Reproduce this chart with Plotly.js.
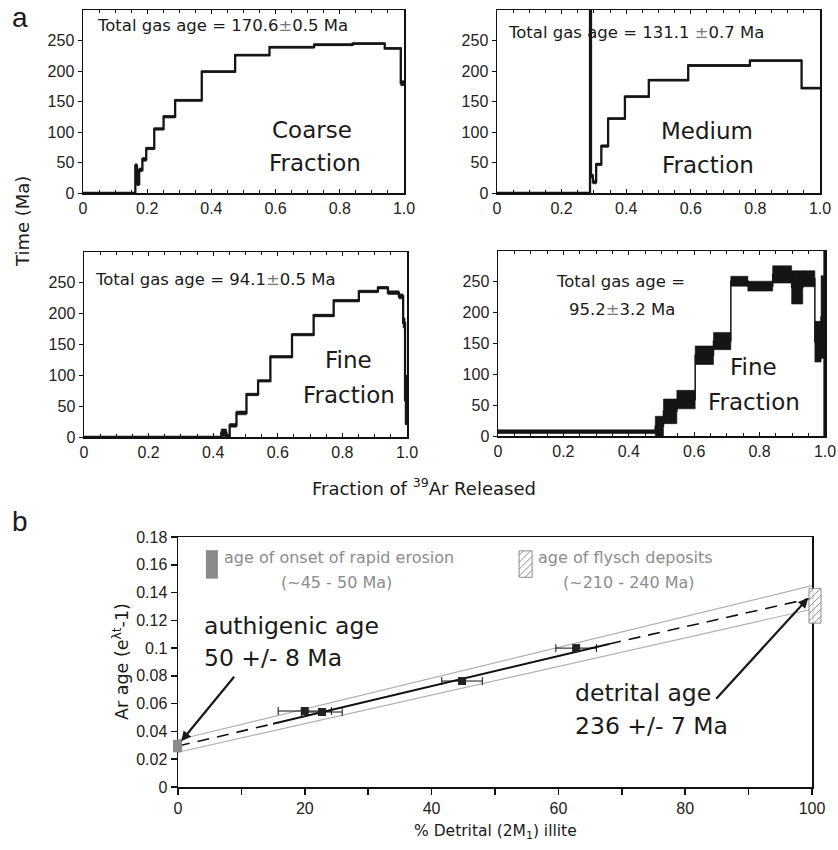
<!DOCTYPE html>
<html><head><meta charset="utf-8">
<script src="https://cdn.plot.ly/plotly-3.0.1.min.js"></script>
<style>body{margin:0;background:#fff}#chart{width:838px;height:850px}</style>
</head><body><div id="chart"></div>
<script>
// ---------- Panel a: 40Ar/39Ar age spectra ----------
// cumulative fraction of 39Ar released (step edges), step ages (Ma), 1-sigma errors (Ma)
const coarseEdges = [0, 0.163, 0.168, 0.175, 0.185, 0.197, 0.222, 0.251, 0.287, 0.37, 0.474, 0.581, 0.72, 0.84, 0.94, 0.99, 1.0];
const coarseAges  = [0, 45, 15, 38, 55, 73, 105, 125, 152, 199, 226, 239, 243, 245, 237, 180];
const coarseErr   = [0.5, 3, 3, 3, 3, 2, 2, 2, 1.5, 1.5, 1.5, 1.5, 1.5, 1.5, 1.5, 4];

const mediumEdges = [0, 0.288, 0.291, 0.297, 0.307, 0.323, 0.344, 0.396, 0.47, 0.592, 0.783, 0.943, 1.0];
const mediumAges  = [0, 400, 28, 18, 47, 77, 122, 158, 185, 209, 217, 172];
const mediumErr   = [0.5, 0, 3, 3, 2, 2, 1.5, 1.5, 1.5, 1.5, 1.5, 1.5];

const fineEdges = [0, 0.425, 0.441, 0.451, 0.472, 0.503, 0.539, 0.577, 0.644, 0.711, 0.773, 0.851, 0.910, 0.941, 0.975, 0.988, 0.994, 1.0];
const fineAges  = [0, 7, 2, 19, 39, 69, 91, 130, 166, 197, 221, 236, 242, 234, 228, 185, 60];
const fineErr   = [0.5, 6, 2, 3, 3, 2, 2, 2, 2, 2, 2, 2, 2, 3, 4, 8, 40];

const fine2Edges = [0, 0.481, 0.506, 0.547, 0.603, 0.659, 0.712, 0.764, 0.840, 0.898, 0.932, 0.969, 0.988, 0.996, 1.0];
const fine2Ages  = [7, 16, 40, 59, 131, 154, 251, 243, 262, 241, 255, 153, 193, 150];
const fine2Err   = [3, 16, 20, 15, 15, 14, 8, 8, 14, 27, 13, 33, 67, 150];

const fracTicks = [0, 0.2, 0.4, 0.6, 0.8, 1.0];
const fracTickText = ['0', '0.2', '0.4', '0.6', '0.8', '1.0'];
const timeTicks = [0, 50, 100, 150, 200, 250];

// ---------- Panel b: illite age analysis ----------
const detritalPct = [20, 22.7, 44.8, 62.8];
const arAge = [0.0547, 0.0540, 0.0763, 0.100];
const detritalErr = [4.2, 3.2, 3.2, 3.2];
const fitSolidX = [15, 68];
const fitSolidY = [0.0455, 0.103];
const fitDashLowX = [0, 15];
const fitDashLowY = [0.0295, 0.0455];
const fitDashHighX = [68, 100];
const fitDashHighY = [0.103, 0.136];
const bandX = [0, 100];
const bandUpper = [0.034, 0.145];
const bandLower = [0.025, 0.128];
const erosionRange = [0.025, 0.034];   // e^lt-1 for ~45-50 Ma
const flyschRange = [0.118, 0.143];    // e^lt-1 for ~210-240 Ma
const pctTicks = [0, 20, 40, 60, 80, 100];
const arTicks = [0, 0.02, 0.04, 0.06, 0.08, 0.1, 0.12, 0.14, 0.16, 0.18];

// ---------- layout helpers ----------
const W = 838, H = 850;
const FONT = 'Liberation Sans, Arial, Helvetica, sans-serif';
const TFONT = 'DejaVu Sans, Liberation Sans, sans-serif';
function dx(a, b) { return [a / W, b / W]; }
function dy(top, bottom) { return [1 - bottom / H, 1 - top / H]; }
function px(x) { return x / W; }
function py(y) { return 1 - y / H; }

function spectrum(edges, ages, errs, xa, ya, lw) {
  const bx = [], by = [];
  for (let i = 0; i < ages.length; i++) {
    const x0 = edges[i], x1 = edges[i + 1];
    const lo = ages[i] - errs[i], hi = ages[i] + errs[i];
    bx.push(x0, x1, x1, x0, x0, null);
    by.push(lo, lo, hi, hi, lo, null);
  }
  return [
    {type: 'scatter', mode: 'lines', x: bx, y: by, fill: 'toself', fillcolor: '#151515',
     line: {width: 0.6, color: '#151515'}, xaxis: xa, yaxis: ya, hoverinfo: 'skip', showlegend: false},
    {type: 'scatter', mode: 'lines', x: edges, y: ages.concat([ages[ages.length - 1]]),
     line: {shape: 'hv', width: lw, color: '#151515'}, xaxis: xa, yaxis: ya, hoverinfo: 'skip', showlegend: false}
  ];
}

const traces = [].concat(
  spectrum(coarseEdges, coarseAges, coarseErr, 'x', 'y', 2.3),
  spectrum(mediumEdges, mediumAges, mediumErr, 'x2', 'y2', 2.3),
  spectrum(fineEdges, fineAges, fineErr, 'x3', 'y3', 2.3),
  spectrum(fine2Edges, fine2Ages, fine2Err, 'x4', 'y4', 1.5)
);

// panel b traces
traces.push(
  {type: 'scatter', mode: 'lines', x: bandX, y: bandUpper, line: {color: '#b0b0b0', width: 1.2}, xaxis: 'x5', yaxis: 'y5', showlegend: false, hoverinfo: 'skip'},
  {type: 'scatter', mode: 'lines', x: bandX, y: bandLower, line: {color: '#b0b0b0', width: 1.2}, xaxis: 'x5', yaxis: 'y5', showlegend: false, hoverinfo: 'skip'},
  {type: 'scatter', mode: 'lines', x: fitDashLowX, y: fitDashLowY, line: {color: '#111', width: 1.6, dash: '12px,8px'}, xaxis: 'x5', yaxis: 'y5', showlegend: false, hoverinfo: 'skip'},
  {type: 'scatter', mode: 'lines', x: fitDashHighX, y: fitDashHighY, line: {color: '#111', width: 1.6, dash: '12px,8px'}, xaxis: 'x5', yaxis: 'y5', showlegend: false, hoverinfo: 'skip'},
  {type: 'scatter', mode: 'lines', x: fitSolidX, y: fitSolidY, line: {color: '#111', width: 2}, xaxis: 'x5', yaxis: 'y5', showlegend: false, hoverinfo: 'skip'},
  {type: 'scatter', mode: 'markers', x: detritalPct, y: arAge,
   error_x: {type: 'data', array: detritalErr, visible: true, color: '#111', thickness: 1, width: 4},
   marker: {symbol: 'square', size: 8, color: '#222'}, xaxis: 'x5', yaxis: 'y5', showlegend: false}
);

const dA = {
  x1: dx(83, 404), y1: dy(10, 193),
  x2: dx(497, 820), y2: dy(10, 193),
  x3: dx(84, 407), y3: dy(252, 437),
  x4: dx(498, 825), y4: dy(251, 436),
  x5: dx(178, 812), y5: dy(537, 787)
};

function fracAxis(dom, anchor) {
  return {domain: dom, anchor: anchor, range: [0, 1], tickmode: 'array', tickvals: fracTicks, ticktext: fracTickText,
    ticks: 'inside', ticklen: 4, tickwidth: 1, tickcolor: '#111',
    minor: {tickmode: 'linear', tick0: 0, dtick: 0.05, ticks: 'inside', ticklen: 3, tickcolor: '#111'},
    mirror: 'allticks', showline: true, linewidth: 1.5, linecolor: '#111', showgrid: false, zeroline: false,
    tickfont: {size: 16, color: '#222', family: FONT}, fixedrange: true};
}
function timeAxis(dom, anchor) {
  return {domain: dom, anchor: anchor, range: [0, 300], tickmode: 'array', tickvals: timeTicks,
    ticks: 'outside', ticklen: 4, tickwidth: 1, tickcolor: '#111',
    mirror: true, showline: true, linewidth: 1.5, linecolor: '#111', showgrid: false, zeroline: false,
    tickfont: {size: 16, color: '#222', family: FONT}, fixedrange: true};
}

// hatch path: x in pixels relative to anchor, y in data units
const kB = (dA.y5[1] - dA.y5[0]) * H / 0.18; // px per data unit in panel b
function hatchPath(a, b, y0, y1, s) {
  const w = b - a, hh = (y1 - y0) * kB;
  let p = `M${a},${y0} L${b},${y0} L${b},${y1} L${a},${y1} Z`;
  for (let c = -w + s; c < hh; c += s) {
    const u0 = Math.max(0, -c), u1 = Math.min(w, hh - c);
    if (u1 <= u0) continue;
    p += ` M${a + u0},${y0 + (u0 + c) / kB} L${a + u1},${y0 + (u1 + c) / kB}`;
  }
  return p;
}

const shapes = [
  // erosion age bar on x = 0
  {type: 'rect', xref: 'paper', xsizemode: 'pixel', xanchor: dA.x5[0], x0: -5, x1: 4,
   yref: 'y5', y0: erosionRange[0], y1: erosionRange[1], fillcolor: '#8a8a8a', line: {width: 0}, layer: 'above'},
  // flysch age bar on x = 100
  {type: 'path', xref: 'paper', xsizemode: 'pixel', xanchor: dA.x5[1], yref: 'y5',
   path: hatchPath(-3, 9, flyschRange[0], flyschRange[1], 7), fillcolor: 'rgba(255,255,255,0.9)',
   line: {color: '#8a8a8a', width: 1}, layer: 'above'},
  // legend symbols
  {type: 'rect', xref: 'x5', yref: 'y5', x0: 4.4, x1: 6.3, y0: 0.150, y1: 0.1705, fillcolor: '#8a8a8a', line: {width: 0}},
  {type: 'path', xref: 'x5', xsizemode: 'pixel', xanchor: 53.8, yref: 'y5',
   path: hatchPath(0, 13, 0.151, 0.170, 7), fillcolor: 'rgba(255,255,255,0)', line: {color: '#8a8a8a', width: 1}}
];

function txt(text, x, y, size, opts) {
  return Object.assign({text: text, xref: 'paper', yref: 'paper', x: px(x), y: py(y), showarrow: false,
    font: {size: size, color: '#1a1a1a', family: TFONT}, xanchor: 'center', yanchor: 'middle'}, opts || {});
}
const PM = '<span style="color:#777">±</span>';
const grey = {color: '#8c8c8c', size: 16, family: TFONT};

const annotations = [
  txt('a', 20, 18, 27, {font: {size: 28, color: '#1a1a1a', family: FONT}}),
  txt('b', 20, 521, 27, {font: {size: 28, color: '#1a1a1a', family: FONT}}),
  txt('Total gas age = 170.6' + PM + '0.5 Ma', 222, 25, 16.5),
  txt('Coarse', 312, 130, 23),
  txt('Fraction', 315, 163, 23),
  txt('Total gas age = 131.1 ' + PM + '0.7 Ma', 636, 33, 16.5),
  txt('Medium', 707, 131, 23),
  txt('Fraction', 708, 165, 23),
  txt('Total gas age = 94.1' + PM + '0.5 Ma', 215, 279, 16.5),
  txt('Fine', 348, 360, 23),
  txt('Fraction', 349, 395, 23),
  txt('Total gas age =', 620, 281, 16.5),
  txt('95.2' + PM + '3.2 Ma', 622, 309, 16.5),
  txt('Fine', 753, 367, 23),
  txt('Fraction', 754, 402, 23),
  txt('Time (Ma)', 22, 222, 18, {textangle: -90}),
  txt('Fraction of <sup>39</sup>Ar Released', 424, 487, 18),
  // panel b
  txt('age of onset of rapid erosion', 222, 557, 16, {xanchor: 'left', font: grey}),
  txt('(~45 - 50 Ma)', 336, 582, 16, {font: grey}),
  txt('age of flysch deposits', 536, 557, 16, {xanchor: 'left', font: grey}),
  txt('(~210 - 240 Ma)', 629, 582, 16, {font: grey}),
  txt('authigenic age', 202, 626, 23.5, {xanchor: 'left'}),
  txt('50 +/- 8 Ma', 202, 658, 23.5, {xanchor: 'left'}),
  txt('detrital age', 573, 693, 23.5, {xanchor: 'left'}),
  txt('236 +/- 7 Ma', 573, 726, 23.5, {xanchor: 'left'}),
  txt('Ar age (e<sup>λt</sup>-1)', 121, 662, 17.5, {textangle: -90}),
  txt('% Detrital (2M<sub>1</sub>) illite', 495, 832, 15.5),
  // arrows
  {xref: 'x5', yref: 'y5', x: 0.5, y: 0.033, ax: 56, ay: -68, text: ' ', showarrow: true,
   arrowhead: 2, arrowsize: 0.9, arrowwidth: 2.2, arrowcolor: '#1a1a1a'},
  {xref: 'x5', yref: 'y5', x: 99.4, y: 0.136, ax: -95, ay: 104, text: ' ', showarrow: true,
   arrowhead: 2, arrowsize: 0.9, arrowwidth: 2.2, arrowcolor: '#1a1a1a'}
];

const layout = {
  width: W, height: H, margin: {l: 0, r: 0, t: 0, b: 0},
  paper_bgcolor: '#fff', plot_bgcolor: '#fff', showlegend: false,
  font: {family: FONT, color: '#222'},
  xaxis: fracAxis(dA.x1, 'y'), yaxis: timeAxis(dA.y1, 'x'),
  xaxis2: fracAxis(dA.x2, 'y2'), yaxis2: timeAxis(dA.y2, 'x2'),
  xaxis3: fracAxis(dA.x3, 'y3'), yaxis3: timeAxis(dA.y3, 'x3'),
  xaxis4: fracAxis(dA.x4, 'y4'), yaxis4: timeAxis(dA.y4, 'x4'),
  xaxis5: {domain: dA.x5, anchor: 'y5', range: [0, 100], tickmode: 'array', tickvals: pctTicks,
    ticks: 'outside', ticklen: 6, tickwidth: 1.5, tickcolor: '#111', showline: true, mirror: true,
    minor: {tickmode: 'linear', tick0: 0, dtick: 10, ticks: 'outside', ticklen: 6, tickwidth: 1.5, tickcolor: '#111'},
    linewidth: 1.5, linecolor: '#111', showgrid: false, zeroline: false,
    tickfont: {size: 16, color: '#222', family: FONT}, fixedrange: true},
  yaxis5: {domain: dA.y5, anchor: 'x5', range: [0, 0.18], tickmode: 'array', tickvals: arTicks,
    ticks: 'outside', ticklen: 6, tickwidth: 1.5, tickcolor: '#111', showline: true, mirror: true,
    linewidth: 1.5, linecolor: '#111', showgrid: false, zeroline: false,
    tickfont: {size: 16, color: '#222', family: FONT}, fixedrange: true},
  shapes: shapes,
  annotations: annotations
};

Plotly.newPlot('chart', traces, layout, {staticPlot: true, displayModeBar: false});
</script>
</body></html>
